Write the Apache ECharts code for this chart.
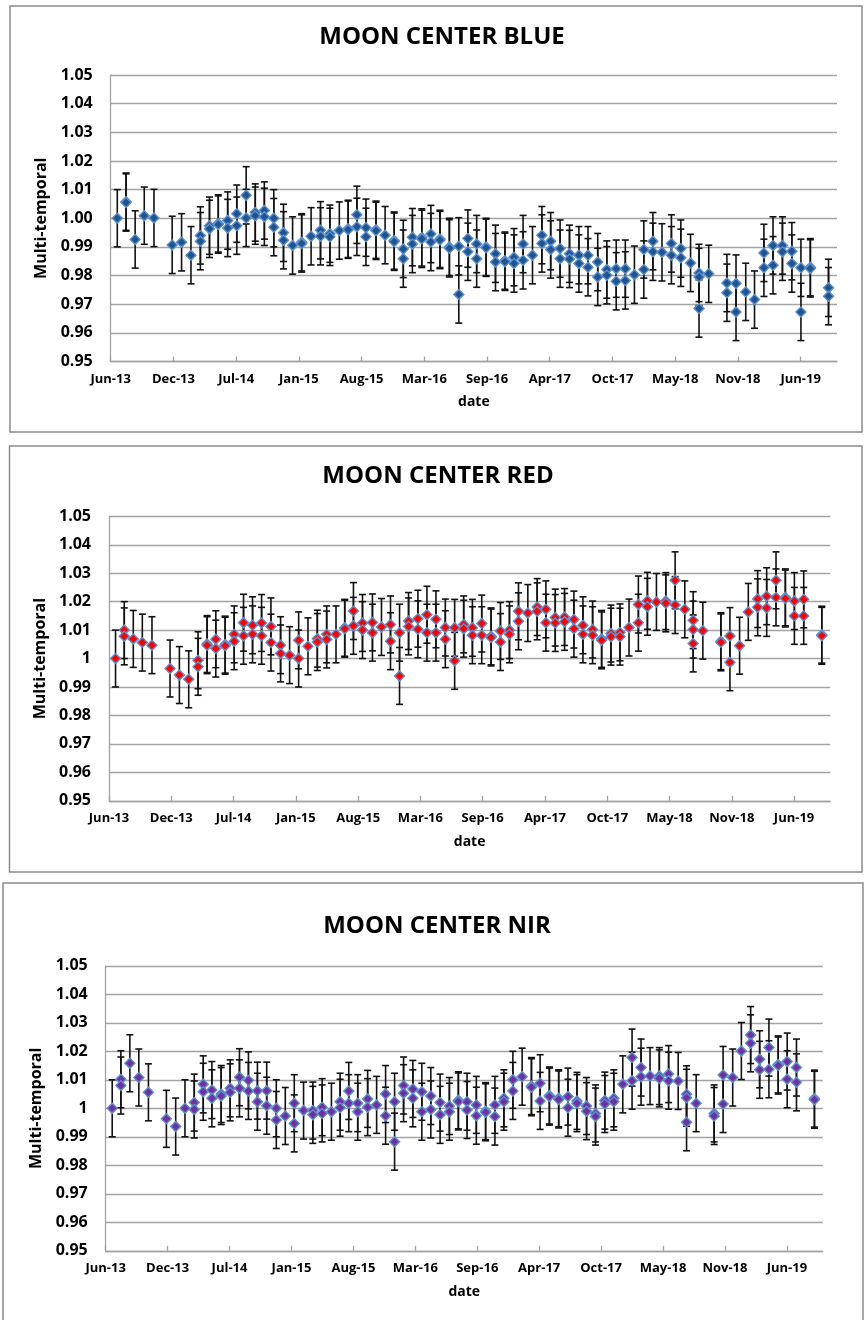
<!DOCTYPE html>
<html>
<head>
<meta charset="utf-8">
<title>Moon center multi-temporal stability</title>
<script src="https://cdn.jsdelivr.net/npm/echarts@6/dist/echarts.min.js"></script>
<style>
  html, body { margin: 0; padding: 0; background: #ffffff; }
  #chart { width: 866px; height: 1320px; }
</style>
</head>
<body>
<div id="chart"></div>
<script>
// Acquisition dates of the lunar observations (one entry per month).
const acquisitionDates = [
  '2013-06-28','2013-07-26','2013-08-24','2013-09-22','2013-10-23',
  '2013-12-20','2014-01-19','2014-02-18','2014-03-20','2014-04-18',
  '2014-05-16','2014-06-15','2014-07-14','2014-08-13','2014-09-11',
  '2014-10-10','2014-11-09','2014-12-10','2015-01-08','2015-02-06',
  '2015-03-08','2015-04-07','2015-05-07','2015-06-06','2015-07-04',
  '2015-08-01','2015-08-30','2015-10-01','2015-10-30','2015-11-28',
  '2015-12-27','2016-01-25','2016-02-24','2016-03-24','2016-04-22',
  '2016-05-22','2016-06-21','2016-07-20','2016-08-17','2016-09-16',
  '2016-10-16','2016-11-15','2016-12-14','2017-01-12','2017-02-11',
  '2017-03-13','2017-04-10','2017-05-10','2017-06-09','2017-07-09',
  '2017-08-07','2017-09-07','2017-10-06','2017-11-05','2017-12-04',
  '2018-01-02','2018-02-01','2018-03-02','2018-03-31','2018-04-30',
  '2018-05-30','2018-06-30','2018-07-27','2018-08-27','2018-10-24',
  '2018-11-22','2018-12-23','2019-01-20','2019-02-19','2019-03-20',
  '2019-04-19','2019-05-19','2019-06-17','2019-07-17','2019-09-13'
];

// Normalised moon-centre response per date (one value per observation on that date).
const blueValues = [
  [1.0000],[1.0058,1.0055],[0.9926],[1.0009],[1.0001],
  [0.9907],[0.9916],[0.9871],[0.9940,0.9920],[0.9974,0.9963],
  [0.9982,0.9978],[0.9992,0.9966],[1.0016,0.9974],[1.0080,1.0001],[1.0020,1.0009],
  [1.0027,1.0005],[1.0000,0.9969],[0.9949,0.9923],[0.9905],[0.9916,0.9912],
  [0.9937],[0.9958,0.9937],[0.9946,0.9935],[0.9957],[0.9963,0.9960],
  [1.0012,0.9970],[0.9967,0.9935],[0.9960,0.9956],[0.9941],[0.9922,0.9918],
  [0.9893,0.9859],[0.9934,0.9910],[0.9933,0.9928],[0.9945,0.9917],[0.9928,0.9924],
  [0.9900,0.9895],[0.9902,0.9734],[0.9929,0.9883],[0.9910,0.9859],[0.9900,0.9897],
  [0.9876,0.9847],[0.9852,0.9848],[0.9864,0.9842],[0.9910,0.9853],[0.9871],
  [0.9941,0.9912],[0.9920,0.9891],[0.9894,0.9859],[0.9876,0.9858],[0.9871,0.9842],
  [0.9871,0.9829],[0.9847,0.9795],[0.9821,0.9801],[0.9824,0.9780],[0.9824,0.9783],
  [0.9803],[0.9891,0.9821],[0.9920,0.9883],[0.9881],[0.9912,0.9871],
  [0.9894,0.9862],[0.9844],[0.9809,0.9795,0.9685],[0.9806],[0.9774,0.9740],
  [0.9772,0.9673],[0.9743],[0.9716],[0.9879,0.9827],[0.9905,0.9836],
  [0.9905,0.9883],[0.9885,0.9842],[0.9827,0.9673],[0.9829,0.9825],[0.9757,0.9728]
];

const redValues = [
  [1.0000],[1.0100,1.0078],[1.0069],[1.0056],[1.0047],
  [0.9965],[0.9942],[0.9927],[0.9994,0.9971],[1.0051,1.0047],
  [1.0068,1.0035],[1.0049,1.0045],[1.0085,1.0061],[1.0126,1.0080],[1.0117,1.0085],
  [1.0125,1.0080],[1.0113,1.0056],[1.0047,1.0018],[1.0012],[1.0064,1.0000],
  [1.0043],[1.0070,1.0058],[1.0085,1.0067],[1.0085],[1.0108,1.0105],
  [1.0167,1.0115],[1.0125,1.0100],[1.0127,1.0091],[1.0111],[1.0120,1.0061],
  [1.0091,0.9939],[1.0132,1.0113],[1.0140,1.0103],[1.0154,1.0091],[1.0138,1.0091],
  [1.0109,1.0068],[1.0108,0.9992],[1.0120,1.0105],[1.0108,1.0082],[1.0123,1.0082],
  [1.0078,1.0074],[1.0097,1.0058],[1.0100,1.0085],[1.0166,1.0131],[1.0160],
  [1.0181,1.0166],[1.0173,1.0126],[1.0144,1.0125],[1.0146,1.0129],[1.0137,1.0105],
  [1.0117,1.0085],[1.0102,1.0082],[1.0069,1.0064],[1.0088,1.0077],[1.0092,1.0077],
  [1.0109],[1.0190,1.0126],[1.0203,1.0182],[1.0199],[1.0202,1.0194],
  [1.0275,1.0188],[1.0173],[1.0135,1.0102,1.0053],[1.0098],[1.0061,1.0057],
  [1.0079,0.9987],[1.0045],[1.0164],[1.0209,1.0180],[1.0219,1.0178],
  [1.0275,1.0215],[1.0215,1.0211],[1.0202,1.0150],[1.0208,1.0150],[1.0084,1.0080]
];

const nirValues = [
  [1.0000],[1.0102,1.0080],[1.0158],[1.0108],[1.0056],
  [0.9963],[0.9936],[1.0000],[1.0020,0.9996],[1.0084,1.0058],
  [1.0064,1.0035],[1.0050,1.0043],[1.0070,1.0056],[1.0109,1.0070],[1.0098,1.0061],
  [1.0062,1.0023],[1.0062,1.0009],[1.0000,0.9959],[0.9973],[1.0018,0.9947],
  [0.9992],[0.9992,0.9977],[1.0004,0.9982],[0.9988],[1.0023,1.0002],
  [1.0061,1.0018],[1.0018,0.9988],[1.0033,1.0004],[1.0012],[1.0050,0.9974],
  [1.0023,0.9883],[1.0080,1.0053],[1.0068,1.0035],[1.0058,0.9988],[1.0043,0.9996],
  [1.0020,0.9977],[1.0008,0.9988],[1.0028,1.0024],[1.0023,0.9994],[1.0012,0.9974],
  [0.9990,0.9986],[1.0012,0.9971],[1.0035,1.0023],[1.0100,1.0061],[1.0111],
  [1.0078,1.0074],[1.0088,1.0026],[1.0045,1.0041],[1.0035,1.0031],[1.0041,1.0002],
  [1.0026,1.0018],[1.0008,0.9990],[0.9982,0.9971],[1.0027,1.0015],[1.0035,1.0023],
  [1.0084],[1.0178,1.0097],[1.0143,1.0111],[1.0113],[1.0113,1.0105],
  [1.0120,1.0097],[1.0096],[1.0049,1.0037,0.9951],[1.0018],[0.9982,0.9973],
  [1.0117,1.0015],[1.0108],[1.0201],[1.0257,1.0228],[1.0172,1.0135],
  [1.0213,1.0137],[1.0154,1.0150],[1.0164,1.0102],[1.0143,1.0091],[1.0034,1.0030]
];

// Measurement uncertainty shown by the error bars (±1 %).
const UNCERTAINTY = 0.01;

// Date axis: range and tick labels every 200 days.
const AXIS_START = '2013-06-07';
const AXIS_END = '2019-10-10';
const TICK_STEP_DAYS = 200;
const xTickLabels = ['Jun-13','Dec-13','Jul-14','Jan-15','Aug-15','Mar-16',
                     'Sep-16','Apr-17','Oct-17','May-18','Nov-18','Jun-19'];

// ---------------------------------------------------------------------
const DAY_MS = 86400000;
const t0 = Date.parse(AXIS_START);
const dayOf = s => (Date.parse(s) - t0) / DAY_MS;
const xMax = dayOf(AXIS_END);
const tickDays = xTickLabels.map((_, i) => i * TICK_STEP_DAYS);

function toPoints(groups) {
  const pts = [];
  groups.forEach((g, i) => g.forEach(v => pts.push([dayOf(acquisitionDates[i]), v])));
  return pts;
}

const FONT = '"Open Sans", "Noto Sans", sans-serif';
const GRID_GRAY = '#a3a3a3';
const BOX_GRAY = '#8c8c8c';
const generalFmt = v => String(Number(v.toFixed(2)));

const panels = [
  { title: 'MOON CENTER BLUE', values: blueValues, fill: '#21548e', edge: '#5b8fd0',
    grid: { left: 110.7, top: 75, width: 726.3, height: 286.5 },
    titleX: 442, titleY: 37, yFmt: v => v.toFixed(2), yNameGap: 58,
    box: [10, 6, 852, 426] },
  { title: 'MOON CENTER RED', values: redValues, fill: '#ff0000', edge: '#5b8fd0',
    grid: { left: 109, top: 516.3, width: 721.2, height: 284.5 },
    titleX: 438, titleY: 476, yFmt: generalFmt, yNameGap: 58,
    box: [9.5, 446, 852.5, 426] },
  { title: 'MOON CENTER NIR', values: nirValues, fill: '#7030a0', edge: '#5b8fd0',
    grid: { left: 105.7, top: 965.8, width: 717.1, height: 285 },
    titleX: 437, titleY: 926, yFmt: generalFmt, yNameGap: 60,
    box: [3, 883, 860, 460] }
];

const grid = [], xAxis = [], yAxis = [], series = [], graphic = [];

panels.forEach((p, i) => {
  grid.push(Object.assign({ containLabel: false }, p.grid));

  xAxis.push({
    gridIndex: i, type: 'value', min: 0, max: xMax,
    axisLine: { show: true, onZero: false, lineStyle: { color: GRID_GRAY, width: 1.3 } },
    axisTick: { show: true, inside: true, length: 5, customValues: tickDays,
                lineStyle: { color: GRID_GRAY, width: 1.3 } },
    axisLabel: { customValues: tickDays,
                 formatter: v => xTickLabels[Math.round(v / TICK_STEP_DAYS)],
                 fontFamily: FONT, fontWeight: 'bold', fontSize: 13, color: '#000', margin: 11 },
    splitLine: { show: false },
    name: 'date', nameLocation: 'middle', nameGap: 34,
    nameTextStyle: { fontFamily: FONT, fontWeight: 'bold', fontSize: 14, color: '#000' }
  });

  yAxis.push({
    gridIndex: i, type: 'value', min: 0.95, max: 1.05, interval: 0.01,
    axisLine: { show: true, lineStyle: { color: GRID_GRAY, width: 1.3 } },
    axisTick: { show: false },
    splitLine: { show: true, lineStyle: { color: GRID_GRAY, width: 1.3 } },
    axisLabel: { formatter: p.yFmt, fontFamily: FONT, fontWeight: 'bold', fontSize: 16,
                 color: '#000', margin: 18 },
    name: 'Multi-temporal', nameLocation: 'middle', nameRotate: 90, nameGap: p.yNameGap,
    nameTextStyle: { fontFamily: FONT, fontWeight: 'bold', fontSize: 16, color: '#000' }
  });

  const pts = toPoints(p.values);

  series.push({
    type: 'custom', xAxisIndex: i, yAxisIndex: i, z: 2, silent: true,
    data: pts.map(d => [d[0], d[1] - UNCERTAINTY, d[1] + UNCERTAINTY]),
    encode: { x: 0, y: [1, 2] },
    renderItem: (params, api) => {
      const x = api.value(0);
      const lo = api.coord([x, api.value(1)]);
      const hi = api.coord([x, api.value(2)]);
      const cap = 3.5;
      const st = { stroke: '#111', lineWidth: 1.6 };
      return {
        type: 'group',
        children: [
          { type: 'line', shape: { x1: lo[0], y1: lo[1], x2: hi[0], y2: hi[1] }, style: st },
          { type: 'line', shape: { x1: lo[0] - cap, y1: lo[1], x2: lo[0] + cap, y2: lo[1] }, style: st },
          { type: 'line', shape: { x1: hi[0] - cap, y1: hi[1], x2: hi[0] + cap, y2: hi[1] }, style: st }
        ]
      };
    }
  });

  series.push({
    type: 'scatter', xAxisIndex: i, yAxisIndex: i, z: 3,
    symbol: 'diamond', symbolSize: 10,
    itemStyle: { color: p.fill, borderColor: p.edge, borderWidth: 1.4, opacity: 1 },
    data: pts
  });

  graphic.push({
    type: 'rect', silent: true, z: 0,
    shape: { x: p.box[0], y: p.box[1], width: p.box[2], height: p.box[3] },
    style: { fill: 'none', stroke: BOX_GRAY, lineWidth: 1.5 }
  });
  graphic.push({
    type: 'text', silent: true, x: p.titleX, y: p.titleY,
    style: { text: p.title, fontFamily: FONT, fontWeight: 'bold', fontSize: 24,
             fill: '#000', align: 'center', verticalAlign: 'middle' }
  });
});

const chart = echarts.init(document.getElementById('chart'), null,
                           { renderer: 'canvas', width: 866, height: 1320 });
chart.setOption({
  animation: false,
  backgroundColor: '#ffffff',
  grid, xAxis, yAxis, series, graphic
});
</script>
</body>
</html>
